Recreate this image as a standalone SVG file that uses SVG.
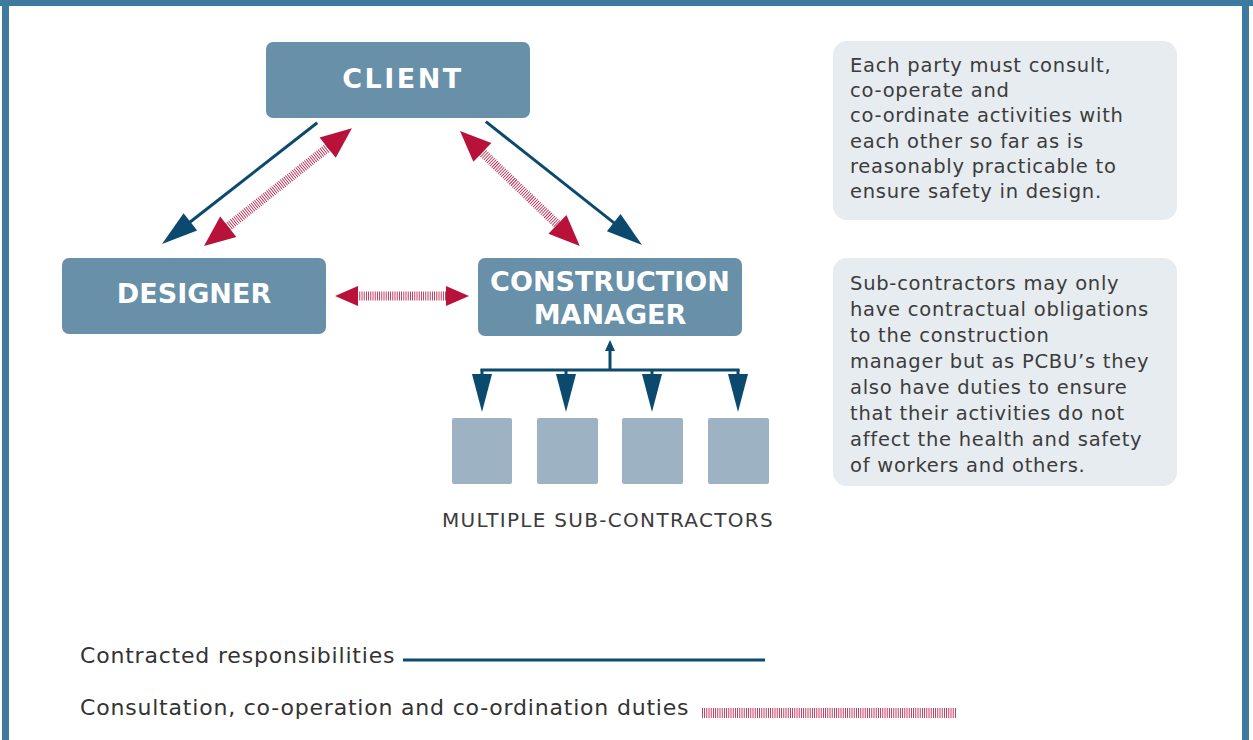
<svg xmlns="http://www.w3.org/2000/svg" width="1253" height="740" viewBox="0 0 1253 740">
<style>
.node{fill:#6890a9}
.lbl{font-family:"DejaVu Sans",sans-serif;font-weight:bold;font-size:27px;fill:#fff;text-anchor:middle}
.note{fill:#e7ecf0}
.nt{font-family:"DejaVu Sans",sans-serif;font-size:19.5px;letter-spacing:0.75px;fill:#3c3c3c}
.sub{fill:#9db3c3}
.blue{stroke:#0b4a6e;stroke-width:3;fill:none}
.bh{fill:#0b4a6e}
.zz{stroke:#b8123b;stroke-width:9;stroke-dasharray:0.8 1.4;fill:none}
.rh{fill:#b8123b}
.leg{font-family:"DejaVu Sans",sans-serif;font-size:22px;letter-spacing:0.8px;fill:#333}
</style>
<rect width="1253" height="740" fill="#fff"/>
<g id="border" fill="#3d7a9e">
<rect x="0" y="0" width="1253" height="6"/>
<rect x="2" y="0" width="7" height="740"/>
<rect x="1242" y="0" width="7" height="740"/>
</g>
<g id="client"><rect class="node" x="266" y="42" width="264" height="76" rx="7"/><text class="lbl" x="403" y="88" style="letter-spacing:2.5px">CLIENT</text></g>
<g id="designer"><rect class="node" x="62" y="258" width="264" height="76" rx="7"/><text class="lbl" x="194" y="303">DESIGNER</text></g>
<g id="cm"><rect class="node" x="478" y="258" width="264" height="78" rx="7"/><text class="lbl" x="610" y="291">CONSTRUCTION</text><text class="lbl" x="610" y="324">MANAGER</text></g>
<g id="sub1"><rect class="sub" x="452" y="418" width="60" height="66" rx="2"/></g>
<g id="sub2"><rect class="sub" x="537" y="418" width="61" height="66" rx="2"/></g>
<g id="sub3"><rect class="sub" x="622" y="418" width="61" height="66" rx="2"/></g>
<g id="sub4"><rect class="sub" x="708" y="418" width="61" height="66" rx="2"/></g>
<g id="subs-label"><text x="608" y="527" text-anchor="middle" style="font-family:'DejaVu Sans',sans-serif;font-size:20px;letter-spacing:1.3px;fill:#3c3c3c">MULTIPLE SUB-CONTRACTORS</text></g>
<g id="note1"><rect class="note" x="833" y="41" width="344" height="179" rx="14"/>
<text class="nt" x="850" y="72">Each party must consult,</text>
<text class="nt" x="850" y="97.2">co-operate and</text>
<text class="nt" x="850" y="122.4">co-ordinate activities with</text>
<text class="nt" x="850" y="147.6">each other so far as is</text>
<text class="nt" x="850" y="172.8">reasonably practicable to</text>
<text class="nt" x="850" y="198">ensure safety in design.</text>
</g>
<g id="note2"><rect class="note" x="833" y="258" width="344" height="228" rx="14"/>
<text class="nt" x="850" y="290">Sub-contractors may only</text>
<text class="nt" x="850" y="316">have contractual obligations</text>
<text class="nt" x="850" y="342">to the construction</text>
<text class="nt" x="850" y="368">manager but as PCBU’s they</text>
<text class="nt" x="850" y="394">also have duties to ensure</text>
<text class="nt" x="850" y="420">that their activities do not</text>
<text class="nt" x="850" y="446">affect the health and safety</text>
<text class="nt" x="850" y="472">of workers and others.</text>
</g>
<g id="connectors">
<g transform="translate(162,244) rotate(-38)">
<line class="blue" x1="30" y1="0" x2="197" y2="0"/>
<polygon class="bh" points="0,0 36,-11 36,11"/>
</g>
<g transform="translate(642,245) rotate(-141.7)">
<line class="blue" x1="30" y1="0" x2="199" y2="0"/>
<polygon class="bh" points="0,0 36,-11 36,11"/>
</g>
<g transform="translate(204,246) rotate(-38.5)">
<line class="zz" x1="28" y1="0" x2="162" y2="0"/>
<polygon class="rh" points="0,0 31,-13 31,13"/>
<polygon class="rh" points="189,0 158,-13 158,13"/>
</g>
<g transform="translate(460,131) rotate(43.8)">
<line class="zz" x1="28" y1="0" x2="139" y2="0"/>
<polygon class="rh" points="0,0 31,-13 31,13"/>
<polygon class="rh" points="166,0 135,-13 135,13"/>
</g>
<g transform="translate(335,296)">
<line class="zz" x1="20" y1="0" x2="115" y2="0"/>
<polygon class="rh" points="0,0 23,-10 23,10"/>
<polygon class="rh" points="134,0 111,-10 111,10"/>
</g>
<line class="blue" x1="480.5" y1="370" x2="739.5" y2="370"/>
<line class="blue" x1="610" y1="370" x2="610" y2="350"/>
<polygon class="bh" points="610,340 605,351 615,351"/>
<line class="blue" x1="482" y1="369" x2="482" y2="376"/>
<line class="blue" x1="566" y1="369" x2="566" y2="376"/>
<line class="blue" x1="652" y1="369" x2="652" y2="376"/>
<line class="blue" x1="738" y1="369" x2="738" y2="376"/>
<polygon class="bh" points="472,374 492,374 482,412"/>
<polygon class="bh" points="556,374 576,374 566,412"/>
<polygon class="bh" points="642,374 662,374 652,412"/>
<polygon class="bh" points="728,374 748,374 738,412"/>
</g>
<g id="legend">
<text class="leg" x="80" y="663">Contracted responsibilities</text>
<line x1="403" y1="660" x2="765" y2="660" stroke="#0d4a70" stroke-width="3"/>
<text class="leg" x="80" y="715">Consultation, co-operation and co-ordination duties</text>
<line class="zz" x1="702" y1="713" x2="957" y2="713" style="stroke-width:10"/>
</g>
</svg>
